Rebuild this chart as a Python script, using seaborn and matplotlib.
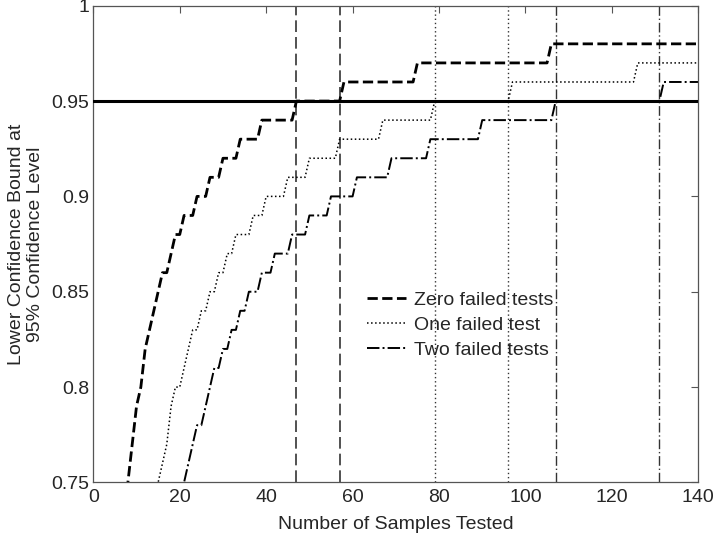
import numpy as np
import pandas as pd
import matplotlib
matplotlib.use("Agg")
import matplotlib.pyplot as plt
import seaborn as sns

# step curves: sample count where each rounded bound level starts
zero_start = [7, 8, 9, 10, 11, 12, 13, 14, 15, 16, 18, 19, 21, 24, 27, 30, 34, 39, 47, 58, 75, 106]
zero_level = [0.72, 0.75, 0.77, 0.79, 0.80, 0.82, 0.83, 0.84, 0.85, 0.86, 0.87, 0.88, 0.89,
              0.90, 0.91, 0.92, 0.93, 0.94, 0.95, 0.96, 0.97, 0.98]

one_start = [14, 15, 16, 17, 18, 19, 21, 22, 23, 25, 27, 29, 31, 33, 37, 40, 45, 50, 57, 67, 79, 97, 126]
one_level = [0.74, 0.75, 0.76, 0.77, 0.79, 0.80, 0.81, 0.82, 0.83, 0.84, 0.85, 0.86, 0.87,
             0.88, 0.89, 0.90, 0.91, 0.92, 0.93, 0.94, 0.95, 0.96, 0.97]

two_start = [20, 21, 22, 23, 24, 26, 27, 28, 30, 32, 34, 36, 39, 42, 46, 50, 55, 61, 69, 78, 90, 107, 132]
two_level = [0.74, 0.75, 0.76, 0.77, 0.78, 0.79, 0.80, 0.81, 0.82, 0.83, 0.84, 0.85, 0.86,
             0.87, 0.88, 0.89, 0.90, 0.91, 0.92, 0.93, 0.94, 0.95, 0.96]

# sample counts marked with vertical lines
zero_marks = [47, 57]
one_marks = [79, 96]
two_marks = [107, 131]

target = 0.95
n_max = 140


def expand(starts, levels):
    """One value per sample count, held until the next level starts."""
    ends = starts[1:] + [n_max + 1]
    n = np.concatenate([np.arange(s, e) for s, e in zip(starts, ends)])
    v = np.concatenate([[lv] * (e - s) for s, e, lv in zip(starts, ends, levels)])
    return n, v


frames = []
for name, st, lv in [("Zero failed tests", zero_start, zero_level),
                     ("One failed test", one_start, one_level),
                     ("Two failed tests", two_start, two_level)]:
    n, v = expand(st, lv)
    frames.append(pd.DataFrame({"n": n, "bound": v, "series": name}))
df = pd.concat(frames, ignore_index=True)

sns.set_style("white")
plt.rcParams["font.family"] = ["Liberation Sans", "DejaVu Sans"]

fig, ax = plt.subplots(figsize=(7.14, 5.34), dpi=100)
fig.subplots_adjust(left=0.1307, right=0.978, bottom=0.0966, top=0.9893)

styles = {
    "Zero failed tests": dict(lw=2.0, ls="--"),
    "One failed test": dict(lw=1.1, ls=":"),
    "Two failed tests": dict(lw=1.4, ls="-."),
}
for name, sub in df.groupby("series", sort=False):
    sns.lineplot(data=sub, x="n", y="bound", ax=ax, color="black", label=name,
                 estimator=None, sort=False, **styles[name])

vcol = "#333333"
for x in zero_marks:
    ax.axvline(x, color=vcol, lw=1.2, dashes=(7, 3), zorder=1)
for x in one_marks:
    ax.axvline(x, color=vcol, lw=1.0, ls=(0, (1, 2)), zorder=1)
for x in two_marks:
    ax.axvline(x, color=vcol, lw=1.0, ls=(0, (7, 2, 1, 2)), zorder=1)

ax.axhline(target, color="black", lw=2.2, zorder=5)

ax.set_xlim(0, n_max)
ax.set_ylim(0.75, 1)
ax.set_xticks(np.arange(0, 141, 20))
ax.set_yticks([0.75, 0.8, 0.85, 0.9, 0.95, 1])
ax.set_yticklabels(["0.75", "0.8", "0.85", "0.9", "0.95", "1"])
ax.tick_params(direction="in", length=5, width=0.8, color="#555555",
               top=True, right=True, labelsize=14)
ax.tick_params(axis="x", pad=5)
ax.tick_params(axis="y", pad=3)
for sp in ax.spines.values():
    sp.set_color("#555555")
    sp.set_linewidth(0.9)

ax.set_xlabel("Number of Samples Tested", fontsize=14, labelpad=7)
ax.set_ylabel("Lower Confidence Bound at\n95% Confidence Level", fontsize=14, labelpad=5)

ax.legend(loc="center left", bbox_to_anchor=(0.424, 0.33), frameon=False,
          fontsize=14, handlelength=2.0, handletextpad=0.4, labelspacing=0.4)

fig.savefig("out.png", dpi=100)
